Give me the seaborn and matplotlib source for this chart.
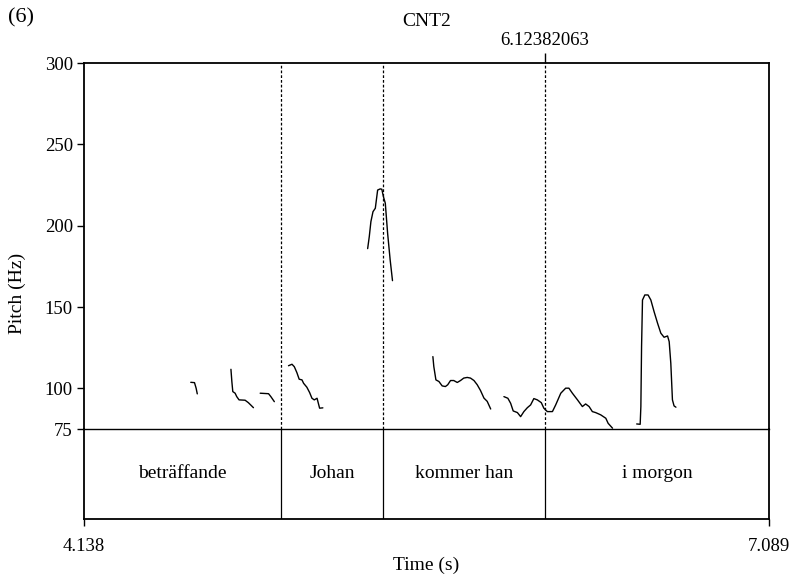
import numpy as np
import pandas as pd
import matplotlib
matplotlib.use("Agg")
import matplotlib.pyplot as plt
import seaborn as sns

sns.set_theme(style="white")
plt.rcParams['font.family'] = ['Liberation Serif', 'DejaVu Serif']
plt.rcParams.update({"text.color": "black", "xtick.color": "black", "ytick.color": "black",
                     "axes.labelcolor": "black", "axes.edgecolor": "black"})

# ---- data ----
seg1_t = [4.598, 4.614, 4.621, 4.626]
seg1_f = [103.7, 103.5, 100.1, 96.6]
seg2_t = [4.771, 4.775, 4.779, 4.789, 4.796, 4.806, 4.832, 4.846, 4.856, 4.868]
seg2_f = [111.7, 104.1, 98.0, 97.0, 94.9, 92.9, 92.7, 91.2, 89.8, 88.1]
seg3_t = [4.897, 4.933, 4.943, 4.958]
seg3_f = [97.0, 96.7, 94.9, 91.8]
seg4_t = [5.019, 5.034, 5.044, 5.055, 5.065, 5.077, 5.084, 5.098, 5.110, 5.120, 5.130, 5.142, 5.153, 5.167]
seg4_f = [113.9, 114.8, 113.3, 109.7, 105.6, 105.2, 103.1, 100.7, 97.4, 93.9, 92.9, 93.9, 87.8, 88.0]
seg5_t = [5.360, 5.367, 5.374, 5.383, 5.393, 5.403, 5.414, 5.421, 5.428, 5.436, 5.446, 5.457, 5.467]
seg5_f = [185.9, 193.3, 202.5, 208.6, 210.7, 221.9, 222.6, 222.4, 217.8, 213.8, 195.3, 178.9, 166.2]
seg6_t = [5.641, 5.645, 5.654, 5.667, 5.681, 5.695, 5.705, 5.717, 5.731, 5.746, 5.760, 5.774, 5.789,
          5.803, 5.818, 5.832, 5.846, 5.861, 5.875, 5.890]
seg6_f = [119.5, 113.4, 105.2, 104.2, 101.5, 101.1, 102.2, 104.8, 104.8, 103.6, 104.8, 106.3, 106.7,
          106.3, 104.8, 102.2, 98.7, 94.0, 92.0, 87.3]
seg7_t = [5.947, 5.964, 5.976, 5.987, 6.005, 6.019, 6.033, 6.048, 6.062, 6.076, 6.091, 6.108, 6.119,
          6.134, 6.156, 6.170, 6.192, 6.213, 6.227, 6.242, 6.264, 6.285, 6.299, 6.314, 6.328, 6.342,
          6.364, 6.386, 6.396, 6.415]
seg7_f = [94.9, 93.9, 90.8, 86.1, 85.1, 82.6, 85.7, 88.1, 89.8, 93.7, 92.9, 91.2, 87.8,
          85.7, 85.7, 89.8, 97.0, 100.1, 100.1, 97.0, 92.9, 88.8, 90.4, 88.8, 85.7, 85.1,
          83.7, 81.6, 78.5, 75.5]
seg8_t = [6.519, 6.534, 6.537, 6.540, 6.544, 6.554, 6.568, 6.580, 6.594, 6.609, 6.623, 6.637, 6.652,
          6.659, 6.666, 6.673, 6.680, 6.688]
seg8_f = [78.1, 77.9, 88.8, 125.6, 154.3, 157.4, 157.4, 154.3, 147.1, 140.0, 133.9, 131.4, 132.2,
          128.7, 115.4, 92.9, 89.2, 88.4]

words = ["beträffande", "Johan", "kommer han", "i morgon"]
bounds = [4.138, 4.988, 5.428, 6.12382063, 7.089]
cursor = 6.12382063
yticks = [75, 100, 150, 200, 250, 300]
t_min, t_max = 4.138, 7.089
f_min, f_max = 75, 300

segs = [(seg1_t, seg1_f), (seg2_t, seg2_f), (seg3_t, seg3_f), (seg4_t, seg4_f),
        (seg5_t, seg5_f), (seg6_t, seg6_f), (seg7_t, seg7_f), (seg8_t, seg8_f)]
df = pd.concat([pd.DataFrame({"t": t, "f0": f, "seg": i}) for i, (t, f) in enumerate(segs)],
               ignore_index=True)

# ---- figure ----
fig = plt.figure(figsize=(7.96, 5.79), dpi=100)
L, R = 84 / 796, 769 / 796
y_top, y_mid, y_bot = 1 - 63 / 579, 1 - 429 / 579, 1 - 519 / 579
axt = fig.add_axes([L, y_bot, R - L, y_mid - y_bot])
ax = fig.add_axes([L, y_mid, R - L, y_top - y_mid])
ax.patch.set_alpha(0)
axt.patch.set_alpha(0)

sns.lineplot(data=df, x="t", y="f0", units="seg", estimator=None, sort=False,
             color="black", lw=1.0, ax=ax, legend=False)

for b in bounds[1:-1]:
    ax.axvline(b, color="black", lw=0.9, ls=(0, (2.2, 1.6)))
    axt.axvline(b, color="black", lw=0.9)

ax.set_xlim(t_min, t_max)
ax.set_ylim(f_min, f_max)
ax.set_yticks(yticks)
ax.set_yticklabels([str(v) for v in yticks], fontsize=13.5)
ax.tick_params(axis="y", direction="out", length=5, width=1, left=True, pad=3)
ax.xaxis.tick_top()
ax.set_xticks([cursor])
ax.set_xticklabels(["6.12382063"], fontsize=13.5)
ax.tick_params(axis="x", direction="out", length=7, width=1, top=True, bottom=False, pad=3)
ax.set_xlabel("")
ax.set_ylabel("")
for s in ["top", "left", "right"]:
    ax.spines[s].set_linewidth(1.3)
ax.spines["bottom"].set_linewidth(1.0)
ax.spines["bottom"].set_zorder(5)

axt.set_xlim(t_min, t_max)
axt.set_ylim(0, 1)
axt.set_yticks([])
axt.set_xticks([t_min, t_max])
axt.set_xticklabels(["4.138", "7.089"], fontsize=13.5)
axt.tick_params(axis="x", direction="out", length=5, width=1, bottom=True, pad=9)
axt.spines["top"].set_visible(False)
for s in ["bottom", "left", "right"]:
    axt.spines[s].set_linewidth(1.3)
for i, w in enumerate(words):
    axt.text((bounds[i] + bounds[i + 1]) / 2, 0.5, w, ha="center", va="center", fontsize=14)

fig.text((L + R) / 2, 1 - 565 / 579, "Time (s)", ha="center", va="center", fontsize=14)
fig.text(17 / 796, 1 - 293 / 579, "Pitch (Hz)", ha="center", va="center", rotation=90, fontsize=14)
fig.text((L + R) / 2, 1 - 22 / 579, "CNT2", ha="center", va="center", fontsize=14)
fig.text(8 / 796, 1 - 18 / 579, "(6)", ha="left", va="center", fontsize=16)

fig.savefig("out.png", dpi=100, facecolor="white")
